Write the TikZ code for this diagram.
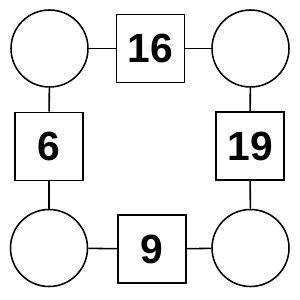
\documentclass[tikz,border=0pt]{standalone}
\usepackage{fontspec}
\setmainfont{Liberation Sans}
\usetikzlibrary{positioning}

\begin{document}
\begin{tikzpicture}[x=0.025cm, y=-0.025cm,
  spot/.style={draw, circle, line width=1.1pt, minimum size=77*0.025cm, inner sep=0pt},
  numbox/.style={draw, line width=1.1pt, minimum size=68*0.025cm, inner sep=0pt,
                 font=\fontsize{29}{30}\selectfont\bfseries},
  link/.style={line width=1.1pt}]
  \useasboundingbox (0,0) rectangle (300,300);
  \node[spot] (tl) at (49.5,48.5) {};
  \node[spot] (tr) at (250.5,48.5) {};
  \node[spot] (bl) at (49,248) {};
  \node[spot] (br) at (250.5,248) {};
  \node[numbox] (top) at (150.5,48.5) {16};
  \node[numbox] (lft) at (49,146.5) {6};
  \node[numbox] (rgt) at (250,146) {19};
  \node[numbox] (bot) at (152,249) {9};
  \draw[link] (tl) -- (top); \draw[link] (top) -- (tr);
  \draw[link] (tl) -- (lft); \draw[link] (lft) -- (bl);
  \draw[link] (tr) -- (rgt); \draw[link] (rgt) -- (br);
  \draw[link] (bl) -- (bot); \draw[link] (bot) -- (br);
\end{tikzpicture}
\end{document}
